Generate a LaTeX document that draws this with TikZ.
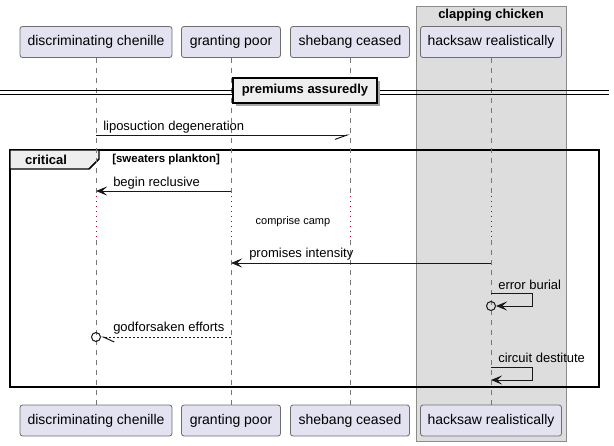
\documentclass[tikz,border=0pt]{standalone}
\usepackage{fontspec}
\setmainfont{Liberation Sans}
\usetikzlibrary{arrows.meta}
\definecolor{partfill}{HTML}{E2E2F0}
\definecolor{partdraw}{HTML}{6E6E6E}
\definecolor{grpfill}{HTML}{DDDDDD}
\definecolor{grpdraw}{HTML}{8C8C8C}
\definecolor{divfill}{HTML}{EEEEEE}
\definecolor{delayc}{HTML}{A80036}
\definecolor{lifec}{HTML}{777777}
\definecolor{ink}{HTML}{181818}
\newcommand{\fpart}{\fontsize{10.5pt}{12pt}\selectfont}
\newcommand{\fmsg}{\fontsize{9.75pt}{11pt}\selectfont}
\newcommand{\fsmall}{\fontsize{8.25pt}{10pt}\selectfont}
\newcommand{\fguard}{\fontsize{8.6pt}{10pt}\selectfont\bfseries}
\newcommand{\ftitle}{\fontsize{9.75pt}{11pt}\selectfont\bfseries}
\begin{document}
\begin{tikzpicture}[x=0.75pt,y=-0.75pt,
  part/.style={draw=partdraw, fill=partfill, line width=0.6pt, rounded corners=1.9pt,
    minimum height=23.25pt, inner sep=0pt, font=\fpart},
  life/.style={draw=lifec, line width=0.6pt, dash pattern=on 3.75pt off 3.75pt},
  delayline/.style={draw=delayc, line width=0.75pt, dash pattern=on 0.75pt off 3pt},
  msg/.style={draw=ink, line width=0.75pt},
  head/.style={-{Stealth[length=8.25pt,width=6.75pt,inset=3.4pt]}},
  lbl/.style={anchor=west, inner sep=0pt, font=\fmsg},
  lolly/.style={circle, draw=ink, line width=0.75pt, minimum size=6.75pt, inner sep=0pt}
]
\useasboundingbox (0,0) rectangle (614,446);
\fill[white] (0,0) rectangle (614,446);

% group box
\draw[draw=grpdraw, fill=grpfill, line width=0.75pt] (416,6) rectangle (566,441);
\node[font=\ftitle, inner sep=0pt] (grptitle) at (491,15.5) {clapping chicken};

% participants
\node[part, minimum width=114pt]   (pA) at (96,42)  {discriminating chenille};
\node[part, minimum width=74.25pt] (pB) at (231,42) {granting poor};
\node[part, minimum width=89.25pt] (pC) at (350,42) {shebang ceased};
\node[part, minimum width=105.75pt](pD) at (491,42) {hacksaw realistically};
\node[part, minimum width=114pt]   (qA) at (96,420.5)  {discriminating chenille};
\node[part, minimum width=74.25pt] (qB) at (231,420.5) {granting poor};
\node[part, minimum width=89.25pt] (qC) at (350,420.5) {shebang ceased};
\node[part, minimum width=105.75pt](qD) at (491,420.5) {hacksaw realistically};

% critical frame
\draw[draw=black, line width=1.1pt] (10,150) rectangle (599,387);
\draw[draw=black, line width=1.1pt, fill=divfill] (10,150) -- (99,150) -- (99,159) -- (89,169) -- (10,169) -- cycle;
\node[font=\ftitle, inner sep=0pt] (crit) at (46,160) {critical};
\node[font=\fguard, inner sep=0pt, anchor=west] (guard) at (112,160) {[sweaters plankton]};

% lifelines with delay
\coordinate (dS) at (0,196);
\coordinate (dE) at (0,240);
\foreach \p/\q in {pA/qA,pB/qB,pC/qC,pD/qD}{
  \draw[life] (\p.south) -- (\p.south |- dS);
  \draw[delayline] (\p.south |- dS) -- (\p.south |- dE);
  \draw[life] (\p.south |- dE) -- (\q.north);
}
\node[font=\fsmall, inner sep=0pt] (delaytxt) at (293,222) {comprise camp};

% divider
\draw[draw=black, line width=0.75pt] (0,90.5) -- (609,90.5);
\draw[draw=black, line width=0.75pt] (0,94) -- (609,94);
\fill[black!35] (236,81) rectangle (380,106);
\node[draw=black, line width=1.1pt, fill=divfill, minimum width=108pt, minimum height=18.75pt,
  inner sep=0pt, font=\ftitle] (divbox) at (305,90.5) {premiums assuredly};

% messages
\draw[msg, -{Straight Barb[right,length=9pt,width=6.5pt]}] (pA |- 0,135) -- (pC |- 0,135);
\node[lbl] (m1) at (103,127) {liposuction degeneration};

\draw[msg, head] (pB |- 0,191) -- (pA |- 0,191);
\node[lbl] (m2) at (113,183) {begin reclusive};

\draw[msg, head] (pD |- 0,263) -- (pB |- 0,263);
\node[lbl] (m3) at (249,254.5) {promises intensity};

\node[lolly] (c1) at (pD |- 0,306) {};
\draw[msg, head] (pD |- 0,293) -- (532,293) -- (532,306) -- (c1);
\node[lbl] (m4) at (498,285) {error burial};

\node[lolly] (c2) at (pA |- 0,337) {};
\draw[msg, dash pattern=on 1.5pt off 1.5pt, -{Straight Barb[left,length=8.25pt,width=7.5pt]}] (pB |- 0,337) -- (c2);
\node[lbl] (m5) at (113,328) {godforsaken efforts};

\draw[msg, head] (pD |- 0,367) -- (532,367) -- (532,380) -- (pD |- 0,380);
\node[lbl] (m6) at (498,358) {circuit destitute};
\end{tikzpicture}
\end{document}
